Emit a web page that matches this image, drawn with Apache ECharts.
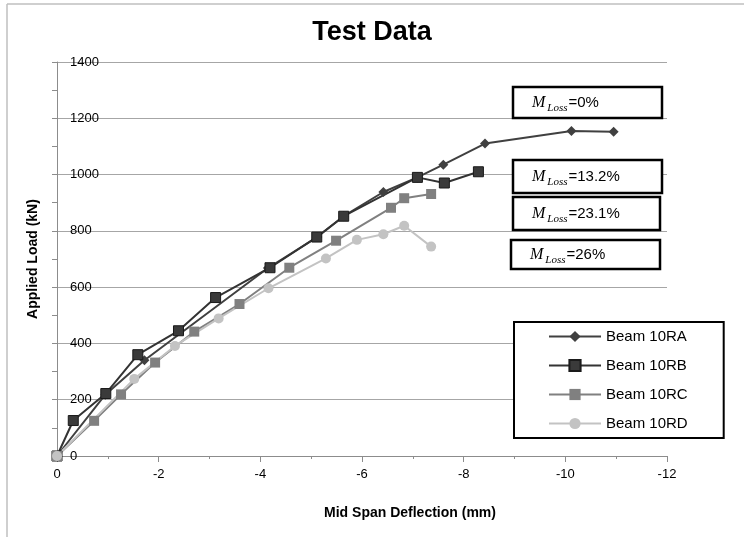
<!DOCTYPE html>
<html>
<head>
<meta charset="utf-8">
<script src="https://cdn.jsdelivr.net/npm/echarts@6/dist/echarts.min.js"></script>
<style>html,body{margin:0;padding:0;background:#fff}#c{width:744px;height:546px}</style>
</head>
<body>
<div id="c"></div>
<script>
// Data (x = mid span deflection in mm, y = applied load in kN)
const seriesNames = ['Beam 10RA', 'Beam 10RB', 'Beam 10RC', 'Beam 10RD'];
const beam10RA = [[0,0],[-0.95,218],[-1.72,340],[-4.15,668],[-5.12,778],[-5.64,852],[-6.42,938],[-7.09,990],[-7.6,1035],[-8.42,1110],[-10.12,1155],[-10.95,1152]];
const beam10RB = [[0,0],[-0.32,126],[-0.96,222],[-1.59,360],[-2.39,445],[-3.12,563],[-4.19,669],[-5.11,778],[-5.64,852],[-7.09,990],[-7.62,970],[-8.29,1010]];
const beam10RC = [[0,0],[-0.73,125],[-1.26,219],[-1.93,332],[-2.7,442],[-3.59,540],[-4.57,669],[-5.49,765],[-6.57,882],[-6.83,916],[-7.36,931]];
const beam10RD = [[0,0],[-1.52,274],[-2.32,391],[-3.18,489],[-4.16,596],[-5.29,702],[-5.9,768],[-6.42,788],[-6.83,818],[-7.36,744]];
const annotationLabels = ['0%', '13.2%', '23.1%', '26%'];
const titleText = 'Test Data';
const xAxisTitle = 'Mid Span Deflection (mm)';
const yAxisTitle = 'Applied Load (kN)';

const chart = echarts.init(document.getElementById('c'));
const font = 'Liberation Sans, Arial, sans-serif';

const boxes = [
  {x:513, y:87, w:149, h:31},
  {x:513, y:160, w:149, h:33},
  {x:513, y:197, w:147, h:33},
  {x:511, y:240, w:149, h:29}
];
const graphics = [
  {type:'line', shape:{x1:7, y1:4, x2:744, y2:4}, style:{stroke:'#bfbfbf', lineWidth:1.5}, silent:true},
  {type:'line', shape:{x1:7, y1:4, x2:7, y2:537}, style:{stroke:'#bfbfbf', lineWidth:1.5}, silent:true}
];
boxes.forEach((b, i) => {
  graphics.push({type:'rect', shape:{x:b.x, y:b.y, width:b.w, height:b.h}, style:{fill:'#fff', stroke:'#000', lineWidth:2.5}, z:100});
  graphics.push({type:'text', x:b.x + 19, y:b.y + b.h/2, z:101,
    style:{
      text:'{m|M}{s|Loss}{t|=' + annotationLabels[i] + '}',
      verticalAlign:'middle', align:'left',
      rich:{
        m:{fontFamily:'Liberation Serif, serif', fontStyle:'italic', fontSize:16, lineHeight:22, fill:'#000'},
        s:{fontFamily:'Liberation Serif, serif', fontStyle:'italic', fontSize:11, lineHeight:22, verticalAlign:'bottom', padding:[0,1,0,2], fill:'#000'},
        t:{fontFamily:font, fontSize:15, lineHeight:22, fill:'#000'}
      }
    }});
});

const mk = (name, data, color, symbol, size, extra) => Object.assign({
  name, type:'line', data, symbol, symbolSize:size,
  lineStyle:{color, width:2}, itemStyle:{color},
  emphasis:{disabled:true}, animation:false
}, extra || {});

chart.setOption({
  animation:false,
  title:{text:titleText, left:'center', top:14, textStyle:{fontFamily:font, fontSize:27, fontWeight:'bold', color:'#000'}},
  grid:{left:57, right:77, top:62, bottom:90, containLabel:false},
  xAxis:{
    type:'value', min:-12, max:0, interval:2, inverse:true,
    name:xAxisTitle, nameLocation:'middle', nameGap:50,
    nameTextStyle:{fontFamily:font, fontSize:14, fontWeight:'bold', color:'#000', padding:[0,0,0,96]},
    axisLine:{show:true, onZero:false, lineStyle:{color:'#8c8c8c', width:1}},
    axisTick:{show:true, length:6, lineStyle:{color:'#8c8c8c'}},
    minorTick:{show:true, splitNumber:2, length:3, lineStyle:{color:'#8c8c8c'}},
    axisLabel:{fontFamily:font, fontSize:13, color:'#000', margin:12, formatter:v => String(v)},
    splitLine:{show:false}
  },
  yAxis:{
    type:'value', min:0, max:1400, interval:200,
    name:yAxisTitle, nameLocation:'middle', nameGap:17,
    nameTextStyle:{fontFamily:font, fontSize:14, fontWeight:'bold', color:'#000'},
    axisLine:{show:true, lineStyle:{color:'#8c8c8c', width:1}},
    axisTick:{show:true, length:5, lineStyle:{color:'#8c8c8c'}},
    minorTick:{show:true, splitNumber:2, length:5, lineStyle:{color:'#8c8c8c'}},
    axisLabel:{inside:true, fontFamily:font, fontSize:13, color:'#000', margin:13, formatter:v => String(v)},
    splitLine:{show:true, lineStyle:{color:'#a6a6a6', width:1}}
  },
  legend:{
    orient:'vertical', left:514, top:322,
    data:seriesNames,
    backgroundColor:'#fff', borderColor:'#000', borderWidth:2,
    padding:[7,36,7,34], itemWidth:52, itemHeight:14, itemGap:14,
    textStyle:{fontFamily:font, fontSize:15, color:'#000'},
    z:100
  },
  graphic:graphics,
  series:[
    mk(seriesNames[0], beam10RA, '#404040', 'diamond', 10),
    mk(seriesNames[1], beam10RB, '#333333', 'rect', 10, {itemStyle:{color:'#3a3a3a', borderColor:'#1a1a1a', borderWidth:1}}),
    mk(seriesNames[2], beam10RC, '#808080', 'rect', 10),
    mk(seriesNames[3], beam10RD, '#c3c3c3', 'circle', 10)
  ]
});
</script>
</body>
</html>
